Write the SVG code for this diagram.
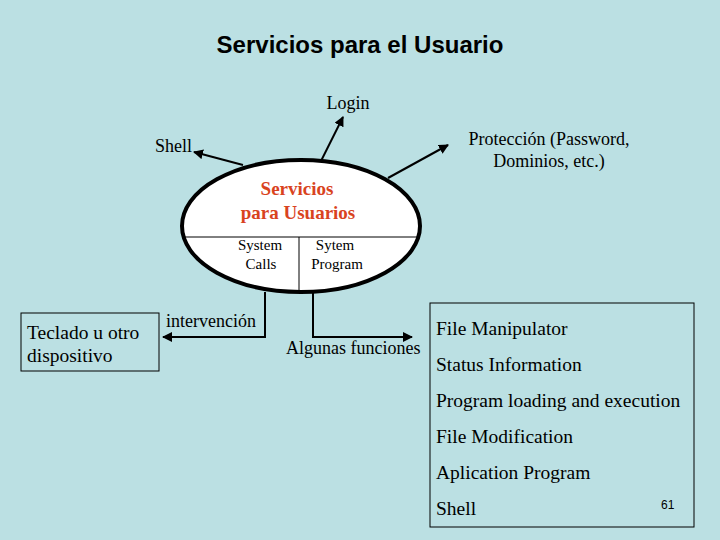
<svg xmlns="http://www.w3.org/2000/svg" width="720" height="540" viewBox="0 0 720 540">
<defs>
<style>
.t{font-family:"Liberation Serif",serif;font-size:18px;fill:#000}
.s{font-size:15px}
.r{font-size:19px;font-weight:bold;fill:#D9431E}
.b{font-size:19.5px}
.l{stroke:#000;stroke-width:2;fill:none}
</style>
<marker id="a" viewBox="0 0 10 10" refX="9" refY="5" markerWidth="5" markerHeight="5" orient="auto"><path d="M0,0L10,5L0,10z" fill="#000"/></marker>
</defs>
<rect width="720" height="540" fill="#BBE0E3"/>
<text x="360" y="53" text-anchor="middle" font-family="Liberation Sans,sans-serif" font-size="24" font-weight="bold">Servicios para el Usuario</text>
<g id="connectors">
<line class="l" x1="321" y1="161" x2="343" y2="117" marker-end="url(#a)"/>
<line class="l" x1="243" y1="165" x2="194" y2="152" marker-end="url(#a)"/>
<line class="l" x1="388" y1="178" x2="448" y2="145" marker-end="url(#a)"/>
<polyline class="l" points="265,292 265,337 163,337" marker-end="url(#a)"/>
<polyline class="l" points="313,292 313,337 412,337" marker-end="url(#a)"/>
</g>
<g id="services">
<ellipse cx="301" cy="226" rx="119" ry="66" fill="#fff" stroke="#000" stroke-width="4"/>
<line x1="183" y1="237" x2="419" y2="237" stroke="#000"/>
<line x1="299" y1="237" x2="299" y2="293" stroke="#000"/>
<text x="297" y="195" text-anchor="middle" class="t r">Servicios</text>
<text x="298" y="219" text-anchor="middle" class="t r">para Usuarios</text>
<text x="260" y="250" text-anchor="middle" class="t s">System</text>
<text x="261" y="269" text-anchor="middle" class="t s">Calls</text>
<text x="335" y="250" text-anchor="middle" class="t s">Sytem</text>
<text x="337" y="269" text-anchor="middle" class="t s">Program</text>
</g>
<g id="login"><text x="348" y="109" text-anchor="middle" class="t">Login</text></g>
<g id="shell"><text x="155" y="152" class="t">Shell</text></g>
<g id="proteccion">
<text x="549" y="145" text-anchor="middle" class="t">Protección (Password,</text>
<text x="549" y="167" text-anchor="middle" class="t">Dominios, etc.)</text>
</g>
<g id="intervencion"><text x="166" y="327" class="t">intervención</text></g>
<g id="algunas"><text x="286" y="354" class="t">Algunas funciones</text></g>
<g id="teclado">
<rect x="21" y="313" width="138" height="58" fill="none" stroke="#000"/>
<text x="27" y="339" class="t b">Teclado u otro</text>
<text x="27" y="362" class="t b">dispositivo</text>
</g>
<g id="lista">
<rect x="430" y="303" width="264" height="224" fill="none" stroke="#000"/>
<text x="436" y="335" class="t b">File Manipulator</text>
<text x="436" y="371" class="t b">Status Information</text>
<text x="436" y="407" class="t b">Program loading and execution</text>
<text x="436" y="443" class="t b">File Modification</text>
<text x="436" y="479" class="t b">Aplication Program</text>
<text x="436" y="515" class="t b">Shell</text>
</g>
<text x="661" y="509" font-family="Liberation Sans,sans-serif" font-size="12">61</text>
</svg>
